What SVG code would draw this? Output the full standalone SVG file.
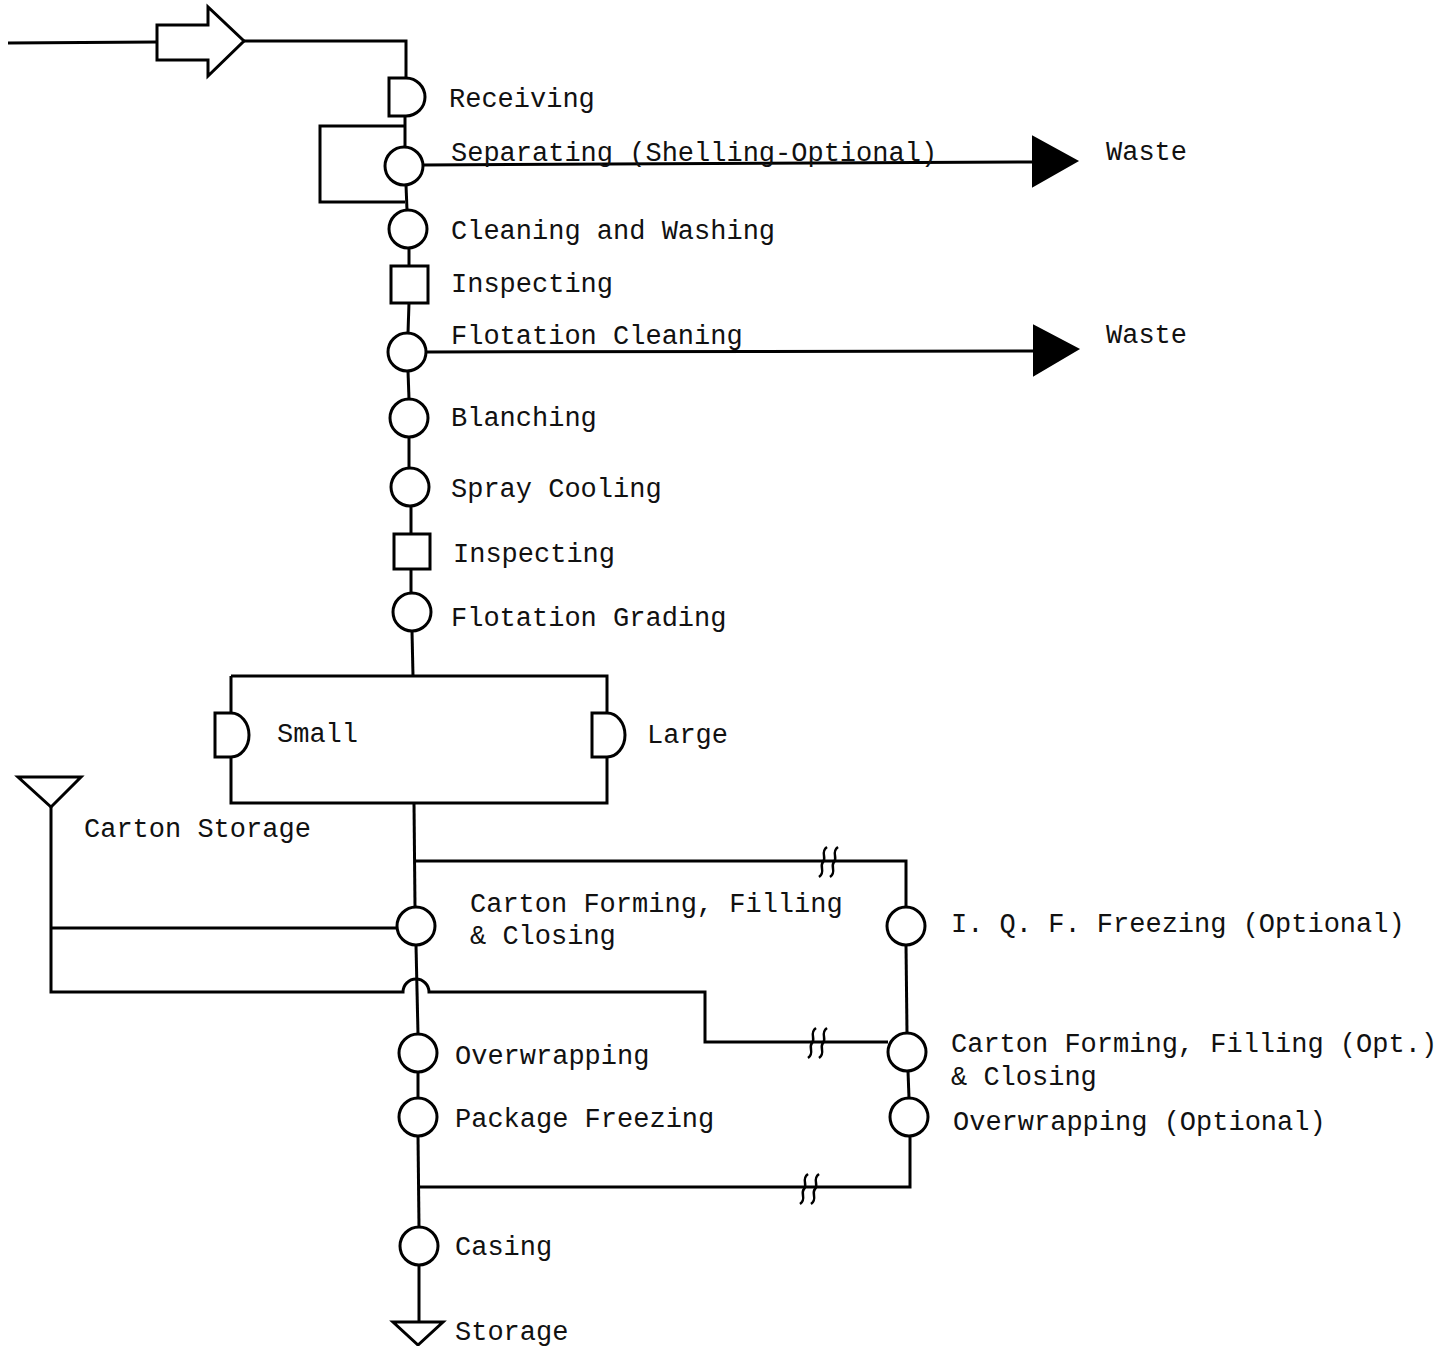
<svg xmlns="http://www.w3.org/2000/svg" width="1446" height="1346" viewBox="0 0 1446 1346">
<style>
.s{fill:none;stroke:#000;stroke-width:3;stroke-linejoin:miter}
.n{fill:#fff;stroke:#000;stroke-width:3}
.f{fill:#000;stroke:#000;stroke-width:2}
text{font-family:"Liberation Mono","DejaVu Sans Mono",monospace;font-size:27px;letter-spacing:0px;fill:#111}
</style>
<defs>
<path id="brk" d="M4,-15 C-3,-10 4,-4 0,0 C-4,4 3,10 -4,15 M15,-15 C8,-10 15,-4 11,0 C7,4 14,10 7,15" fill="none" stroke="#000" stroke-width="2.5"/>
</defs>
<rect width="1446" height="1346" fill="#fff"/>
<g id="connectors">
<path class="s" d="M8,43 L157,42"/>
<path class="s" d="M244,41 L406,41 L406,78"/>
<path class="s" d="M405,116 L405,147"/>
<path class="s" d="M405,126 L320,126 L320,202 L405,202"/>
<path class="s" d="M406,185 L407,210"/>
<path class="s" d="M423,165 L1034,162"/>
<path class="s" d="M409,248 L409,266"/>
<path class="s" d="M409,303 L408,333"/>
<path class="s" d="M426,352 L1034,351"/>
<path class="s" d="M408,371 L409,399"/>
<path class="s" d="M409,437 L409,468"/>
<path class="s" d="M411,506 L411,534"/>
<path class="s" d="M411,569 L411,593"/>
<path class="s" d="M412,631 L413,676"/>
<path class="s" d="M231,676 L607,676 L607,713 M607,757 L607,803 L231,803 L231,757 M231,713 L231,676"/>
<path class="s" d="M414,803 L415,907"/>
<path class="s" d="M415,861 L906,861 L906,907"/>
<path class="s" d="M906,945 L907,1033"/>
<path class="s" d="M51,807 L51,992 L403,992 A13,13 0 0 1 429,992 L705,992 L705,1042 L888,1042"/>
<path class="s" d="M51,928 L397,928"/>
<path class="s" d="M416,945 L418,1034"/>
<path class="s" d="M418,1072 L418,1098"/>
<path class="s" d="M908,1071 L909,1098"/>
<path class="s" d="M418,1136 L419,1227"/>
<path class="s" d="M419,1187 L910,1187 L910,1136"/>
<path class="s" d="M419,1265 L419,1322"/>
<use href="#brk" x="823" y="862"/>
<use href="#brk" x="812" y="1043"/>
<use href="#brk" x="804" y="1189"/>
</g>
<g id="input-arrow"><path class="n" d="M157,25 L208,25 L208,7 L244,41 L208,76 L208,60 L157,60 Z"/></g>
<g id="receiving"><path class="n" d="M389,78 L406,78 A19,19 0 0 1 406,116 L389,116 Z"/><text x="449" y="107">Receiving</text></g>
<g id="separating"><circle class="n" cx="404" cy="166" r="19"/><text x="451" y="161">Separating (Shelling-Optional)</text></g>
<g id="waste1"><path class="f" d="M1033,137 L1077,161 L1033,186 Z"/><text x="1106" y="160">Waste</text></g>
<g id="cleaning"><circle class="n" cx="408" cy="229" r="19"/><text x="451" y="239">Cleaning and Washing</text></g>
<g id="inspecting1"><rect class="n" x="391" y="266" width="37" height="37"/><text x="451" y="292">Inspecting</text></g>
<g id="flotation-cleaning"><circle class="n" cx="407" cy="352" r="19"/><text x="451" y="344">Flotation Cleaning</text></g>
<g id="waste2"><path class="f" d="M1034,326 L1078,349 L1034,375 Z"/><text x="1106" y="343">Waste</text></g>
<g id="blanching"><circle class="n" cx="409" cy="418" r="19"/><text x="451" y="426">Blanching</text></g>
<g id="spray-cooling"><circle class="n" cx="410" cy="487" r="19"/><text x="451" y="497">Spray Cooling</text></g>
<g id="inspecting2"><rect class="n" x="394" y="534" width="36" height="35"/><text x="453" y="562">Inspecting</text></g>
<g id="flotation-grading"><circle class="n" cx="412" cy="612" r="19"/><text x="451" y="626">Flotation Grading</text></g>
<g id="small"><path class="n" d="M215,713 L231,713 A18,22 0 0 1 231,757 L215,757 Z"/><text x="277" y="742">Small</text></g>
<g id="large"><path class="n" d="M592,713 L607,713 A18,22 0 0 1 607,757 L592,757 Z"/><text x="647" y="743">Large</text></g>
<g id="carton-storage"><path class="n" d="M18,777 L81,777 L51,807 Z"/><text x="84" y="837">Carton Storage</text></g>
<g id="carton-forming"><circle class="n" cx="416" cy="926" r="19"/><text x="470" y="912">Carton Forming, Filling</text><text x="470" y="944">&amp; Closing</text></g>
<g id="iqf"><circle class="n" cx="906" cy="926" r="19"/><text x="951" y="932">I. Q. F. Freezing (Optional)</text></g>
<g id="overwrapping"><circle class="n" cx="418" cy="1053" r="19"/><text x="455" y="1064">Overwrapping</text></g>
<g id="carton-forming-opt"><circle class="n" cx="907" cy="1052" r="19"/><text x="951" y="1052">Carton Forming, Filling (Opt.)</text><text x="951" y="1085">&amp; Closing</text></g>
<g id="package-freezing"><circle class="n" cx="418" cy="1117" r="19"/><text x="455" y="1127">Package Freezing</text></g>
<g id="overwrapping-opt"><circle class="n" cx="909" cy="1117" r="19"/><text x="953" y="1130">Overwrapping (Optional)</text></g>
<g id="casing"><circle class="n" cx="419" cy="1246" r="19"/><text x="455" y="1255">Casing</text></g>
<g id="storage"><path class="n" d="M393,1322 L443,1322 L418,1345 Z"/><text x="455" y="1340">Storage</text></g>
</svg>
